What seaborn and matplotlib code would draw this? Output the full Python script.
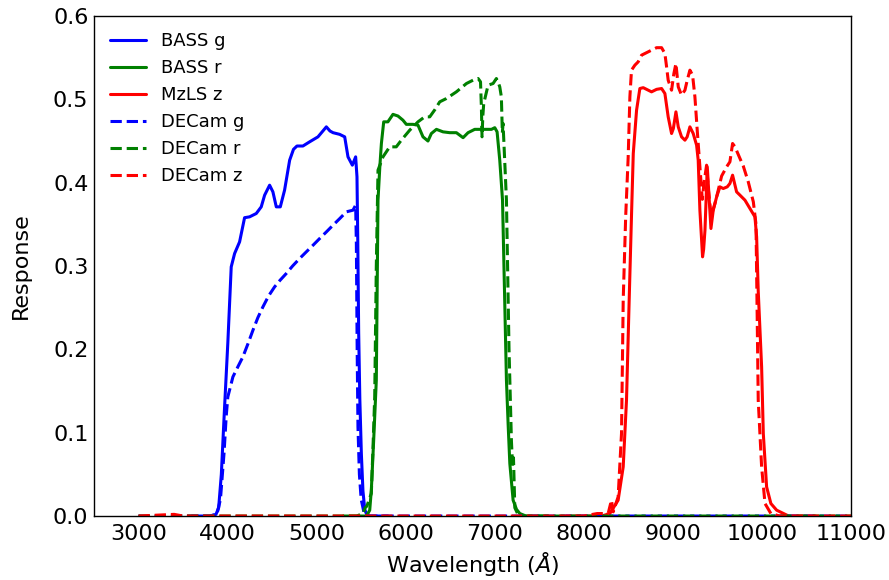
import numpy as np
import pandas as pd
import matplotlib
matplotlib.use("Agg")
import matplotlib.pyplot as plt
import seaborn as sns

# Filter response curves (wavelength in Angstrom, throughput)
bass_g_wl = [3600, 3800, 3870, 3900, 3930, 3966, 4003, 4041, 4079, 4135, 4191, 4247, 4322,
             4378, 4416, 4472, 4509, 4547, 4592, 4640, 4697, 4740, 4779, 4846, 4921, 5015,
             5070, 5109, 5150, 5184, 5258, 5315, 5352, 5401, 5438, 5453, 5462, 5472, 5485,
             5502, 5520, 5540, 5565, 5600, 5800]
bass_g_resp = [0, 0, 0.002, 0.01, 0.05, 0.13, 0.208, 0.299, 0.315, 0.329, 0.358, 0.359, 0.363,
               0.371, 0.385, 0.397, 0.389, 0.371, 0.371, 0.391, 0.427, 0.44, 0.444, 0.444, 0.449, 0.455,
               0.462, 0.467, 0.462, 0.46, 0.458, 0.455, 0.431, 0.421, 0.431, 0.407, 0.33, 0.22, 0.14,
               0.075, 0.03, 0.008, 0.001, 0, 0]

bass_r_wl = [5300, 5560, 5596, 5614, 5640, 5670, 5689, 5710, 5727, 5753, 5800, 5857, 5913,
             5969, 6007, 6082, 6138, 6194, 6250, 6288, 6345, 6419, 6494, 6569, 6644, 6700,
             6775, 6869, 6963, 7000, 7026, 7056, 7087, 7131, 7150, 7169, 7206, 7244, 7281,
             7350, 7600]
bass_r_resp = [0, 0, 0.007, 0.031, 0.09, 0.163, 0.379, 0.42, 0.447, 0.473, 0.473, 0.482, 0.48,
               0.475, 0.47, 0.47, 0.469, 0.455, 0.45, 0.459, 0.464, 0.461, 0.46, 0.46, 0.454, 0.46,
               0.464, 0.464, 0.464, 0.466, 0.461, 0.427, 0.379, 0.163, 0.11, 0.063, 0.019, 0.008, 0.003,
               0, 0]

mzls_z_wl = [7800, 8200, 8292, 8385, 8442, 8479, 8509, 8535, 8555, 8592, 8629, 8667, 8723,
             8760, 8817, 8873, 8910, 8947, 8985, 9005, 9034, 9060, 9097, 9135, 9160, 9191,
             9228, 9266, 9284, 9303, 9333, 9345, 9360, 9386, 9408, 9427, 9453, 9491, 9528,
             9565, 9610, 9640, 9670, 9715, 9753, 9809, 9865, 9921, 9940, 9958, 9996, 10015,
             10052, 10100, 10165, 10300, 10600]
mzls_z_resp = [0, 0, 0.003, 0.019, 0.059, 0.139, 0.259, 0.36, 0.435, 0.487, 0.513, 0.514, 0.511,
               0.509, 0.512, 0.513, 0.507, 0.479, 0.459, 0.465, 0.485, 0.467, 0.455, 0.451, 0.455, 0.467,
               0.459, 0.445, 0.427, 0.367, 0.311, 0.32, 0.343, 0.419, 0.379, 0.345, 0.367, 0.383, 0.395,
               0.393, 0.395, 0.399, 0.409, 0.389, 0.385, 0.379, 0.369, 0.359, 0.335, 0.27, 0.179, 0.099,
               0.035, 0.015, 0.007, 0, 0]

decam_g_wl = [3000, 3800, 3880, 3920, 3960, 3985, 4003, 4060, 4120, 4172, 4230, 4285, 4340,
              4397, 4460, 4528, 4590, 4659, 4730, 4809, 4884, 4960, 5034, 5110, 5184, 5260,
              5333, 5408, 5438, 5446, 5455, 5464, 5480, 5500, 5530, 5560, 11000]
decam_g_resp = [0, 0, 0.002, 0.02, 0.075, 0.12, 0.143, 0.167, 0.18, 0.191, 0.207, 0.223, 0.238,
                0.251, 0.264, 0.275, 0.283, 0.291, 0.3, 0.309, 0.317, 0.325, 0.333, 0.341, 0.349, 0.357,
                0.365, 0.367, 0.373, 0.327, 0.2, 0.107, 0.05, 0.02, 0.005, 0, 0]

decam_r_wl = [3000, 5450, 5520, 5545, 5565, 5590, 5614, 5633, 5652, 5670, 5689, 5745, 5820,
              5894, 5951, 6045, 6138, 6213, 6270, 6330, 6382, 6457, 6569, 6682, 6756, 6813,
              6840, 6850, 6857, 6866, 6876, 6925, 6981, 7018, 7040, 7056, 7074, 7085, 7093,
              7110, 7131, 7160, 7187, 7200, 7210, 7225, 7260, 7300, 11000]
decam_r_resp = [0, 0, 0.003, 0.01, 0.012, 0.02, 0.027, 0.083, 0.143, 0.3, 0.415, 0.431, 0.443,
                0.443, 0.451, 0.463, 0.473, 0.479, 0.479, 0.488, 0.497, 0.501, 0.509, 0.519, 0.523, 0.525,
                0.521, 0.49, 0.455, 0.48, 0.495, 0.517, 0.519, 0.525, 0.52, 0.515, 0.503, 0.46, 0.471,
                0.43, 0.379, 0.2, 0.09, 0.06, 0.07, 0.01, 0.002, 0, 0]

decam_z_wl = [3000, 3400, 3500, 8000, 8150, 8273, 8310, 8330, 8385, 8423, 8442, 8470, 8498,
              8517, 8535, 8573, 8610, 8648, 8704, 8760, 8817, 8873, 8910, 8929, 8947, 8985,
              9011, 9034, 9060, 9097, 9135, 9161, 9191, 9221, 9247, 9273, 9303, 9330, 9350,
              9378, 9400, 9430, 9472, 9509, 9547, 9603, 9640, 9670, 9697, 9753, 9790, 9846,
              9903, 9933, 9945, 9958, 9996, 10034, 10100, 10200, 11000]
decam_z_resp = [0, 0.002, 0, 0, 0.003, 0.003, 0.019, 0.005, 0.023, 0.099, 0.259, 0.36, 0.431,
                0.503, 0.535, 0.541, 0.545, 0.553, 0.556, 0.559, 0.562, 0.562, 0.555, 0.539, 0.523, 0.511,
                0.531, 0.543, 0.515, 0.505, 0.511, 0.523, 0.535, 0.529, 0.503, 0.463, 0.419, 0.38, 0.4,
                0.421, 0.39, 0.36, 0.375, 0.391, 0.408, 0.419, 0.425, 0.447, 0.443, 0.429, 0.42, 0.401,
                0.377, 0.35, 0.25, 0.139, 0.059, 0.015, 0.003, 0, 0]

series = [
    ("BASS g", bass_g_wl, bass_g_resp, "blue", "-"),
    ("BASS r", bass_r_wl, bass_r_resp, "green", "-"),
    ("MzLS z", mzls_z_wl, mzls_z_resp, "red", "-"),
    ("DECam g", decam_g_wl, decam_g_resp, "blue", "--"),
    ("DECam r", decam_r_wl, decam_r_resp, "green", "--"),
    ("DECam z", decam_z_wl, decam_z_resp, "red", "--"),
]

sns.set_style("white")
plt.rcParams["font.family"] = ["DejaVu Sans"]
plt.rcParams["mathtext.fontset"] = "dejavusans"
plt.rcParams["text.color"] = "black"
plt.rcParams["axes.labelcolor"] = "black"
plt.rcParams["xtick.color"] = "black"
plt.rcParams["ytick.color"] = "black"

fig = plt.figure(figsize=(8.89, 5.80), dpi=100)
ax = fig.add_axes([0.1057, 0.1103, 0.8516, 0.8621])

for name, wl, resp, color, ls in series:
    df = pd.DataFrame({"wavelength": wl, "response": resp})
    sns.lineplot(data=df, x="wavelength", y="response", ax=ax, color=color,
                 linestyle=ls, linewidth=2.2, label=name, estimator=None, sort=False)

ax.set_xlim(2500, 11000)
ax.set_ylim(0.0, 0.6)
ax.set_xticks(np.arange(3000, 11001, 1000))
ax.set_yticks(np.arange(0, 0.61, 0.1))
ax.set_yticklabels([f"{v:.1f}" for v in np.arange(0, 0.61, 0.1)])
ax.set_xlabel(r"Wavelength ($\AA$)", fontsize=16, color="black")
ax.set_ylabel("Response", fontsize=16, color="black", labelpad=16)

ax.tick_params(axis="both", which="major", direction="in", length=11, width=1,
               labelsize=16, colors="black", top=False, right=False)
ax.tick_params(axis="x", pad=6)
ax.tick_params(axis="y", pad=4)
for sp in ax.spines.values():
    sp.set_visible(True)
    sp.set_color("black")
    sp.set_linewidth(1.0)

leg = ax.legend(loc="upper left", frameon=False, fontsize=13, handlelength=2.0)
for t in leg.get_texts():
    t.set_color("black")

fig.savefig("out.png", dpi=100)
